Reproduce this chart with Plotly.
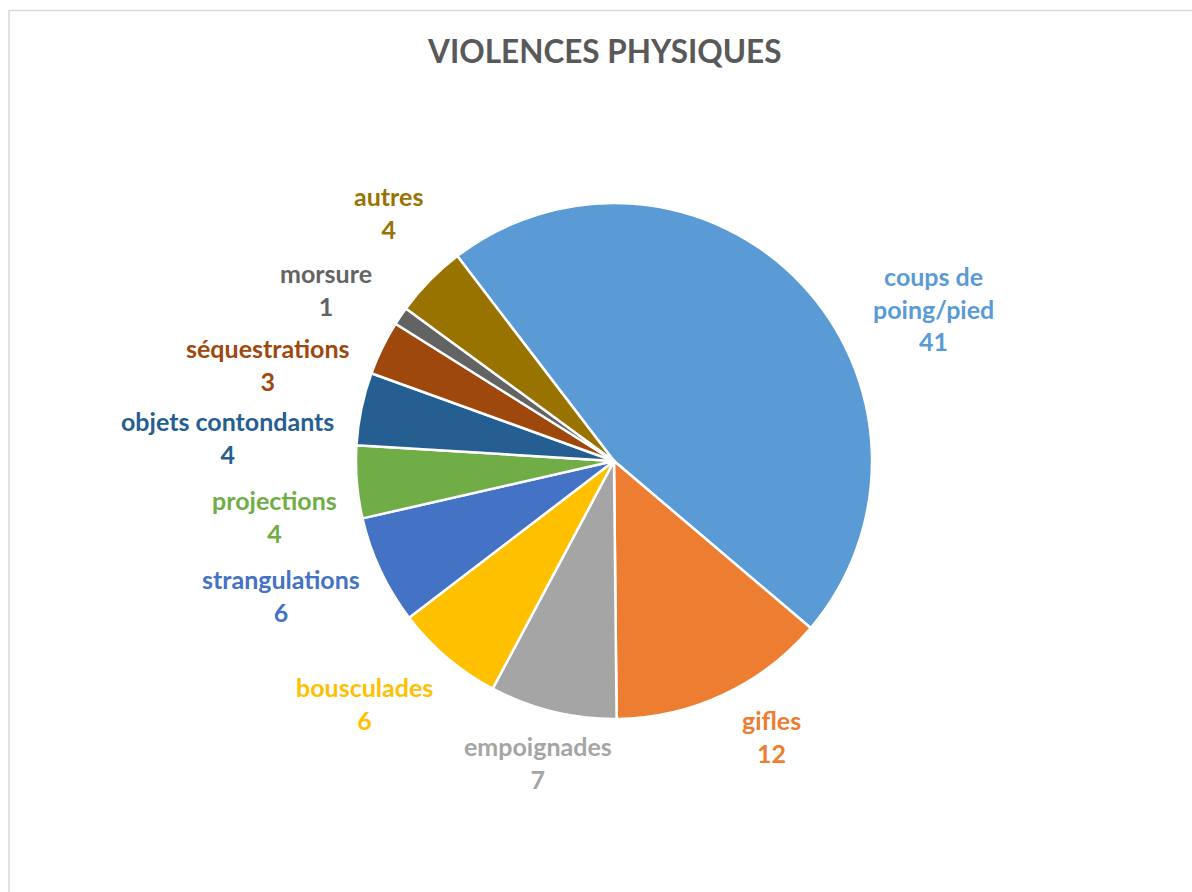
import math
import plotly.graph_objects as go

# ---- data ----
categories = ["coups de<br>poing/pied", "gifles", "empoignades", "bousculades",
              "strangulations", "projections", "objets contondants",
              "séquestrations", "morsure", "autres"]
values = [41, 12, 7, 6, 6, 4, 4, 3, 1, 4]
title_text = "VIOLENCES PHYSIQUES"

# ---- styles ----
colors = ["#5B9BD5", "#ED7D31", "#A5A5A5", "#FFC000", "#4472C4",
          "#70AD47", "#255E91", "#9E480E", "#636363", "#997300"]
W, H = 1192, 892
CX, CY, R = 614, 461, 258          # pie centre / radius in pixels
ROTATION = -37.4                    # start angle of first slice (deg, clockwise from top)
FONT = "Lato, 'Open Sans', sans-serif"
# label offsets (pixels) from the slice's outer mid-point
label_shift = [(132, 25), (48, 42), (-15, 51), (-83, 46), (-99, 25),
               (-82, 34), (-134, 29), (-115, 17), (-75, -27), (-41, -68)]

fig = go.Figure()
fig.add_trace(go.Pie(
    labels=categories, values=values, sort=False, direction="clockwise",
    rotation=ROTATION, textinfo="none", hoverinfo="label+value",
    marker=dict(colors=colors, line=dict(color="white", width=2.5)),
    domain=dict(x=[(CX - R) / W, (CX + R) / W], y=[1 - (CY + R) / H, 1 - (CY - R) / H]),
    showlegend=False,
))

# labels computed from slice mid angles
total = sum(values)
cum = 0
annotations = []
for lab, v, col, (dx, dy) in zip(categories, values, colors, label_shift):
    mid = ROTATION + (cum + v / 2) / total * 360
    cum += v
    th = math.radians(mid)
    px = CX + R * math.sin(th) + dx
    py = CY - R * math.cos(th) + dy
    annotations.append(dict(
        x=px / W, y=1 - py / H, xref="paper", yref="paper",
        text=f"<b>{lab}<br>{v}</b>", showarrow=False,
        xanchor="center", yanchor="middle", align="center",
        font=dict(family=FONT, size=25, color=col),
    ))

annotations.append(dict(
    x=604 / W, y=1 - 51 / H, xref="paper", yref="paper",
    text=f"<b>{title_text}</b>", showarrow=False,
    xanchor="center", yanchor="middle",
    font=dict(family=FONT, size=31.5, color="#595959"),
))

fig.update_layout(
    width=W, height=H, autosize=False,
    margin=dict(l=0, r=0, t=0, b=0),
    paper_bgcolor="white", plot_bgcolor="white",
    annotations=annotations,
    shapes=[dict(type="rect", xref="paper", yref="paper",
                 x0=9 / W, x1=1.05, y0=-0.05, y1=1 - 10.5 / H,
                 line=dict(color="#D9D9D9", width=1.5))],
)

fig.write_html("out.html")
